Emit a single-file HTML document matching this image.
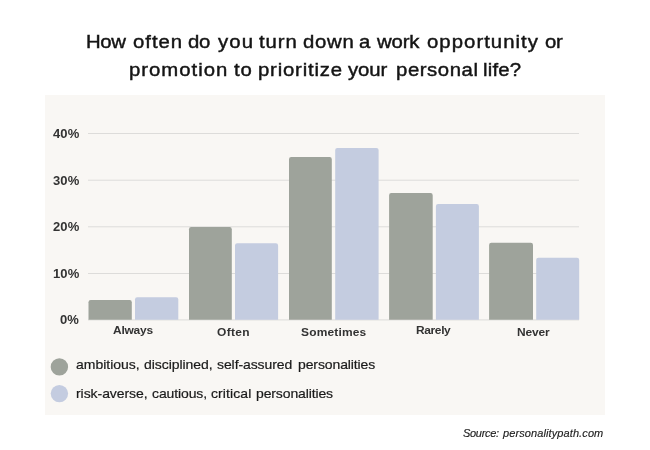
<!DOCTYPE html>
<html>
<head>
<meta charset="utf-8">
<title>Chart</title>
<style>
  html, body { margin: 0; padding: 0; }
  body { width: 650px; height: 450px; background: #ffffff; position: relative; overflow: hidden;
         font-family: "Liberation Sans", sans-serif; color: #262626; }
  .t { position: absolute; white-space: nowrap; line-height: 1; margin: 0; display: block; will-change: transform; transform-origin: 0 0; }
  .title { font-size:19.2px; font-weight:normal; font-style:normal; }
  .leg { font-size:13px; font-weight:normal; font-style:normal; }
  .src { font-size:11px; font-weight:normal; font-style:italic; }
  .ylab { font-size:12.4px; font-weight:bold; font-style:normal; }
  .xlab { font-size:11.5px; font-weight:bold; font-style:normal; }
  .title { color: #141414; -webkit-text-stroke: 0.45px #141414; }
  .leg { color: #1a1a1a; -webkit-text-stroke: 0.2px #1a1a1a; }
  .src { color: #1c1c1c; -webkit-text-stroke: 0.15px #1c1c1c; }
  .ylab, .xlab { color: #333333; }
  .panel { position: absolute; left: 45px; top: 95px; width: 560px; height: 320px; background: #f9f7f4; }
  svg { position: absolute; left: 0; top: 0; }
</style>
</head>
<body>
<div class="panel"></div>
<svg width="650" height="450" viewBox="0 0 650 450">
  <g fill="#dddcda">
    <rect x="88" y="133" width="491" height="1"/>
    <rect x="88" y="179.7" width="491" height="1"/>
    <rect x="88" y="226.3" width="491" height="1"/>
    <rect x="88" y="273" width="491" height="1"/>
    <rect x="88" y="319.4" width="491" height="1"/>
  </g>
  <g fill="#9ea39b">
    <path d="M88.5 319.8 V302.3 a2.2 2.2 0 0 1 2.2 -2.2 H129.6 a2.2 2.2 0 0 1 2.2 2.2 V319.8 Z"/>
    <path d="M189 319.8 V229.3 a2.2 2.2 0 0 1 2.2 -2.2 H229.6 a2.2 2.2 0 0 1 2.2 2.2 V319.8 Z"/>
    <path d="M289 319.8 V159.3 a2.2 2.2 0 0 1 2.2 -2.2 H329.6 a2.2 2.2 0 0 1 2.2 2.2 V319.8 Z"/>
    <path d="M389.1 319.8 V195.3 a2.2 2.2 0 0 1 2.2 -2.2 H430.5 a2.2 2.2 0 0 1 2.2 2.2 V319.8 Z"/>
    <path d="M489.1 319.8 V244.9 a2.2 2.2 0 0 1 2.2 -2.2 H530.8 a2.2 2.2 0 0 1 2.2 2.2 V319.8 Z"/>
  </g>
  <g fill="#c4cce0">
    <path d="M135 319.8 V299.5 a2.2 2.2 0 0 1 2.2 -2.2 H176.1 a2.2 2.2 0 0 1 2.2 2.2 V319.8 Z"/>
    <path d="M235 319.8 V245.4 a2.2 2.2 0 0 1 2.2 -2.2 H275.9 a2.2 2.2 0 0 1 2.2 2.2 V319.8 Z"/>
    <path d="M335.2 319.8 V150.1 a2.2 2.2 0 0 1 2.2 -2.2 H376.4 a2.2 2.2 0 0 1 2.2 2.2 V319.8 Z"/>
    <path d="M435.9 319.8 V206.3 a2.2 2.2 0 0 1 2.2 -2.2 H476.7 a2.2 2.2 0 0 1 2.2 2.2 V319.8 Z"/>
    <path d="M536.2 319.8 V260 a2.2 2.2 0 0 1 2.2 -2.2 H577 a2.2 2.2 0 0 1 2.2 2.2 V319.8 Z"/>
  </g>
  <circle cx="59.4" cy="366.9" r="8.7" fill="#9ea39b"/>
  <circle cx="59.4" cy="393.6" r="8.7" fill="#c4cce0"/>
</svg>
<span class="t title" style="left:85.52px;top:32.45px;letter-spacing:-0.350px;transform:scaleX(1.060)">How</span>
<span class="t title" style="left:133.00px;top:32.45px;letter-spacing:0.914px;transform:scaleX(1.060)">often</span>
<span class="t title" style="left:188.23px;top:32.45px;letter-spacing:-0.350px;transform:scaleX(1.060)">do</span>
<span class="t title" style="left:217.60px;top:32.45px;letter-spacing:1.094px;transform:scaleX(1.060)">you</span>
<span class="t title" style="left:258.60px;top:32.45px;letter-spacing:0.838px;transform:scaleX(1.060)">turn</span>
<span class="t title" style="left:303.00px;top:32.45px;letter-spacing:0.657px;transform:scaleX(1.060)">down</span>
<span class="t title" style="left:358.67px;top:32.45px;letter-spacing:0.000px;transform:scaleX(1.060)">a</span>
<span class="t title" style="left:377.06px;top:32.45px;letter-spacing:-0.136px;transform:scaleX(1.060)">work</span>
<span class="t title" style="left:427.00px;top:32.45px;letter-spacing:0.975px;transform:scaleX(1.060)">opportunity</span>
<span class="t title" style="left:545.12px;top:32.45px;letter-spacing:-0.350px;transform:scaleX(1.060)">or</span>
<span class="t title" style="left:128.94px;top:60.25px;letter-spacing:0.935px;transform:scaleX(1.060)">promotion</span>
<span class="t title" style="left:234.40px;top:60.25px;letter-spacing:0.707px;transform:scaleX(1.060)">to</span>
<span class="t title" style="left:258.34px;top:60.25px;letter-spacing:0.746px;transform:scaleX(1.060)">prioritize</span>
<span class="t title" style="left:348.00px;top:60.25px;letter-spacing:-0.067px;transform:scaleX(1.060)">your</span>
<span class="t title" style="left:395.94px;top:60.25px;letter-spacing:0.536px;transform:scaleX(1.060)">personal</span>
<span class="t title" style="left:482.54px;top:60.25px;letter-spacing:0.203px;transform:scaleX(1.060)">life?</span>
<span class="t leg" style="left:76.40px;top:358.30px;letter-spacing:-0.004px;transform:scaleX(1.075)">ambitious,</span>
<span class="t leg" style="left:144.00px;top:358.30px;letter-spacing:-0.041px;transform:scaleX(1.075)">disciplined,</span>
<span class="t leg" style="left:217.00px;top:358.30px;letter-spacing:-0.074px;transform:scaleX(1.075)">self-assured</span>
<span class="t leg" style="left:297.60px;top:358.30px;letter-spacing:-0.093px;transform:scaleX(1.075)">personalities</span>
<span class="t leg" style="left:76.40px;top:387.10px;letter-spacing:-0.047px;transform:scaleX(1.075)">risk-averse,</span>
<span class="t leg" style="left:151.60px;top:387.10px;letter-spacing:-0.102px;transform:scaleX(1.075)">cautious,</span>
<span class="t leg" style="left:210.60px;top:387.10px;letter-spacing:0.091px;transform:scaleX(1.075)">critical</span>
<span class="t leg" style="left:256.00px;top:387.10px;letter-spacing:-0.108px;transform:scaleX(1.075)">personalities</span>
<span class="t src" style="left:462.60px;top:428.39px;letter-spacing:-0.309px">Source:</span>
<span class="t src" style="left:503.40px;top:428.39px;letter-spacing:0.101px">personalitypath.com</span>
<span class="t ylab" style="left:53.47px;top:128.14px;letter-spacing:0.100px;transform:scaleX(1.050)">40%</span>
<span class="t ylab" style="left:53.47px;top:174.74px;letter-spacing:0.100px;transform:scaleX(1.050)">30%</span>
<span class="t ylab" style="left:53.07px;top:221.44px;letter-spacing:0.100px;transform:scaleX(1.050)">20%</span>
<span class="t ylab" style="left:53.47px;top:267.84px;letter-spacing:0.100px;transform:scaleX(1.050)">10%</span>
<span class="t ylab" style="left:60.21px;top:314.34px;letter-spacing:0.100px;transform:scaleX(1.050)">0%</span>
<span class="t xlab" style="left:113.20px;top:325.37px;letter-spacing:-0.213px;transform:scaleX(1.040)">Always</span>
<span class="t xlab" style="left:217.40px;top:326.87px;letter-spacing:0.312px;transform:scaleX(1.040)">Often</span>
<span class="t xlab" style="left:301.20px;top:326.87px;letter-spacing:0.168px;transform:scaleX(1.040)">Sometimes</span>
<span class="t xlab" style="left:415.61px;top:325.37px;letter-spacing:-0.350px;transform:scaleX(1.040)">Rarely</span>
<span class="t xlab" style="left:517.30px;top:326.87px;letter-spacing:-0.142px;transform:scaleX(1.040)">Never</span>
</body>
</html>
